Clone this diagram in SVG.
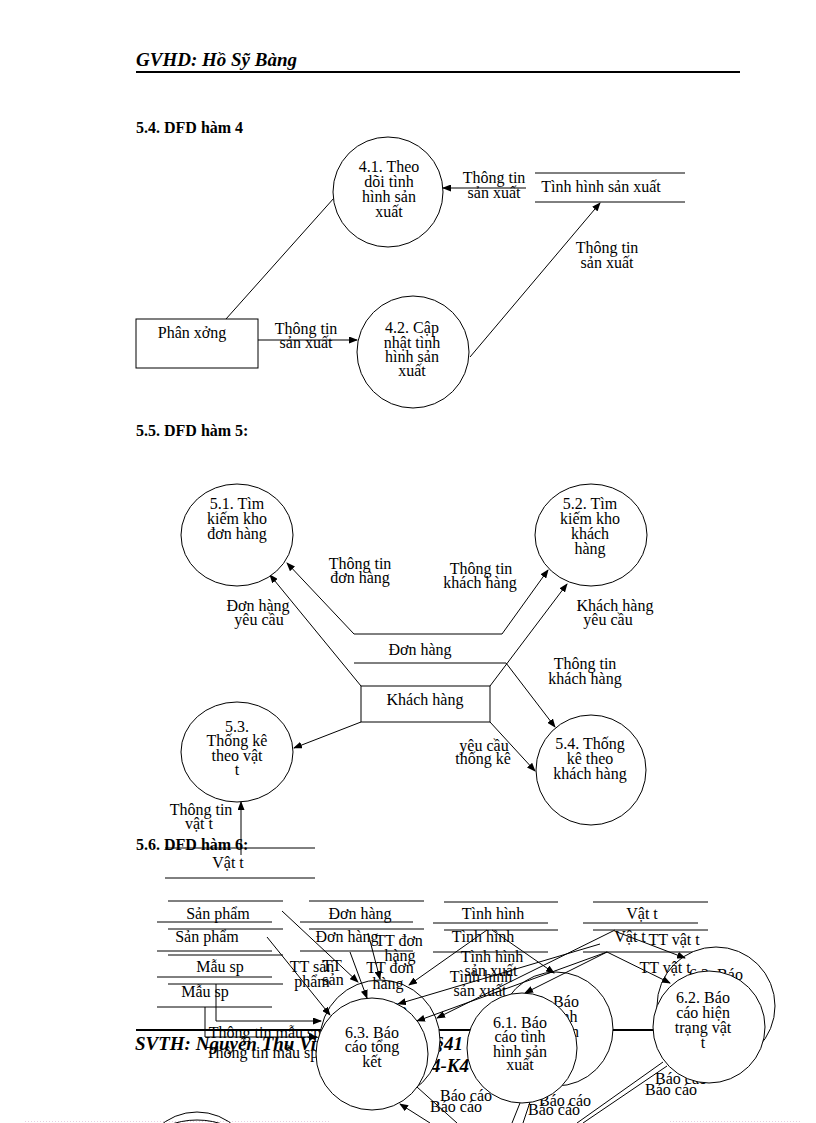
<svg xmlns="http://www.w3.org/2000/svg" width="816" height="1123" viewBox="0 0 816 1123">
<style>
.t{font-family:"Liberation Serif","Times New Roman",serif;font-size:16px;fill:#000;text-anchor:middle}
.h{font-family:"Liberation Serif","Times New Roman",serif;font-size:16px;font-weight:bold;fill:#000}
.hd{font-family:"Liberation Serif","Times New Roman",serif;font-size:19px;font-weight:bold;font-style:italic;fill:#000}
.ln{stroke:#000;stroke-width:1;fill:none}
.ar{stroke:#000;stroke-width:1;fill:none;marker-end:url(#ah)}
.nd{fill:#fff;stroke:#000;stroke-width:1}
.rule{stroke:#000;stroke-width:2}
</style>
<defs>
<marker id="ah" markerWidth="9" markerHeight="7" refX="8" refY="3.5" orient="auto" markerUnits="userSpaceOnUse">
<path d="M0,0 L9,3.5 L0,7 z" fill="#000"/>
</marker>
</defs>
<rect width="816" height="1123" fill="#fff"/>

<g id="page">
<text class="hd" x="136" y="66">GVHD: Hồ Sỹ Bàng</text>
<line class="rule" x1="136" y1="72" x2="740" y2="72"/>
<text class="h" x="136" y="133">5.4. DFD hàm 4</text>
<text class="h" x="136" y="436">5.5. DFD hàm 5:</text>
<text class="h" x="136" y="850">5.6. DFD hàm 6:</text>
<line class="rule" x1="136" y1="1030" x2="740" y2="1030"/>
<text class="hd" x="135" y="1050">SVTH: Nguyễn Thu Vi</text>
<text class="hd" x="463" y="1050" text-anchor="end">§41</text>
<text class="hd" x="469" y="1072" text-anchor="end">4-K4</text>
<line x1="25" y1="1121.5" x2="330" y2="1121.5" stroke="#e6cfe0" stroke-dasharray="1 2"/>
<line x1="670" y1="1121.5" x2="800" y2="1121.5" stroke="#e6cfe0" stroke-dasharray="1 2"/>
</g>

<!-- ===== 5.4 ===== -->
<g id="connectors-54">
<line class="ar" x1="526" y1="188" x2="443" y2="188"/>
<line class="ln" x1="226" y1="319" x2="334" y2="198"/>
<line class="ar" x1="258" y1="340" x2="357" y2="340"/>
<line class="ar" x1="470" y1="357" x2="600" y2="203"/>
<text class="t" x="494" y="183">Thông tin</text>
<text class="t" x="494" y="198">sản xuất</text>
<text class="t" x="306" y="334">Thông tin</text>
<text class="t" x="306" y="348">sản xuất</text>
<text class="t" x="607" y="253">Thông tin</text>
<text class="t" x="607" y="268">sản xuất</text>
</g>
<g id="p41">
<circle class="nd" cx="388" cy="192" r="55"/>
<text class="t" x="389" y="172">4.1. Theo</text>
<text class="t" x="389" y="187">dõi tình</text>
<text class="t" x="389" y="202">hình sản</text>
<text class="t" x="389" y="217">xuất</text>
</g>
<g id="p42">
<circle class="nd" cx="413" cy="352" r="56"/>
<text class="t" x="412" y="333">4.2. Cập</text>
<text class="t" x="412" y="348">nhật tình</text>
<text class="t" x="412" y="362">hình sản</text>
<text class="t" x="412" y="376">xuất</text>
</g>
<g id="ds-tinhhinh">
<line class="ln" x1="535" y1="173" x2="685" y2="173"/>
<line class="ln" x1="535" y1="202" x2="685" y2="202"/>
<text class="t" x="601" y="192">Tình hình sản xuất</text>
</g>
<g id="ext-phanxuong">
<rect class="nd" x="136" y="319" width="122" height="49"/>
<text class="t" x="192" y="338">Phân xởng</text>
</g>

<!-- ===== 5.5 ===== -->
<g id="connectors-55">
<line class="ar" x1="354" y1="634" x2="287" y2="563"/>
<line class="ar" x1="502" y1="634" x2="548" y2="570"/>
<line class="ar" x1="361" y1="686" x2="270" y2="575"/>
<line class="ar" x1="490" y1="686" x2="567" y2="584"/>
<line class="ar" x1="506" y1="663" x2="555" y2="727"/>
<line class="ar" x1="490" y1="722" x2="535" y2="771"/>
<line class="ar" x1="361" y1="722" x2="294" y2="748"/>
<line class="ar" x1="241" y1="855" x2="241" y2="802"/>
<text class="t" x="360" y="569">Thông tin</text>
<text class="t" x="360" y="583">đơn hàng</text>
<text class="t" x="481" y="574">Thông tin</text>
<text class="t" x="480" y="588">khách hàng</text>
<text class="t" x="258" y="611">Đơn hàng</text>
<text class="t" x="259" y="625">yêu cầu</text>
<text class="t" x="615" y="611">Khách hàng</text>
<text class="t" x="608" y="625">yêu cầu</text>
<text class="t" x="585" y="669">Thông tin</text>
<text class="t" x="585" y="684">khách hàng</text>
<text class="t" x="484" y="751">yêu cầu</text>
<text class="t" x="483" y="764">thống kê</text>
<text class="t" x="201" y="815">Thông tin</text>
<text class="t" x="199" y="829">vật t</text>
</g>
<g id="p51">
<ellipse class="nd" cx="237" cy="535" rx="56" ry="51"/>
<text class="t" x="237" y="509">5.1. Tìm</text>
<text class="t" x="237" y="524">kiếm kho</text>
<text class="t" x="237" y="539">đơn hàng</text>
</g>
<g id="p52">
<ellipse class="nd" cx="591" cy="535" rx="56" ry="51"/>
<text class="t" x="590" y="509">5.2. Tìm</text>
<text class="t" x="590" y="524">kiếm kho</text>
<text class="t" x="590" y="539">khách</text>
<text class="t" x="590" y="554">hàng</text>
</g>
<g id="p53">
<ellipse class="nd" cx="237" cy="752" rx="56" ry="50"/>
<text class="t" x="237" y="732">5.3.</text>
<text class="t" x="237" y="746">Thống kê</text>
<text class="t" x="237" y="761">theo vật</text>
<text class="t" x="237" y="775">t</text>
</g>
<g id="p54">
<circle class="nd" cx="591" cy="770" r="55"/>
<text class="t" x="590" y="749">5.4. Thống</text>
<text class="t" x="590" y="764">kê theo</text>
<text class="t" x="590" y="779">khách hàng</text>
</g>
<g id="ds-donhang">
<line class="ln" x1="354" y1="634" x2="502" y2="634"/>
<line class="ln" x1="354" y1="663" x2="506" y2="663"/>
<text class="t" x="420" y="655">Đơn hàng</text>
</g>
<g id="ext-khachhang">
<rect class="nd" x="361" y="686" width="129" height="36"/>
<text class="t" x="425" y="705">Khách hàng</text>
</g>
<g id="ds-vatt-55">
<line class="ln" x1="165" y1="848" x2="315" y2="848"/>
<line class="ln" x1="165" y1="878" x2="315" y2="878"/>
<text class="t" x="228" y="868">Vật t</text>
</g>

<!-- ===== 5.6 ===== -->
<g id="ds-sanpham">
<line class="ln" x1="168" y1="901" x2="283" y2="901"/>
<line class="ln" x1="157" y1="922" x2="272" y2="922"/>
<line class="ln" x1="168" y1="929" x2="283" y2="929"/>
<line class="ln" x1="157" y1="951" x2="272" y2="951"/>
<text class="t" x="218" y="919">Sản phẩm</text>
<text class="t" x="207" y="942">Sản phẩm</text>
</g>
<g id="ds-donhang-56">
<line class="ln" x1="309" y1="901" x2="424" y2="901"/>
<line class="ln" x1="300" y1="922" x2="413" y2="922"/>
<line class="ln" x1="309" y1="929" x2="424" y2="929"/>
<line class="ln" x1="300" y1="951" x2="413" y2="951"/>
<text class="t" x="360" y="919">Đơn hàng</text>
<text class="t" x="347" y="942">Đơn hàng</text>
</g>
<g id="ds-tinhhinh-56">
<line class="ln" x1="444" y1="902" x2="558" y2="902"/>
<line class="ln" x1="433" y1="923" x2="548" y2="923"/>
<line class="ln" x1="444" y1="930" x2="558" y2="930"/>
<line class="ln" x1="433" y1="952" x2="548" y2="952"/>
<text class="t" x="493" y="919">Tình hình</text>
<text class="t" x="483" y="942">Tình hình</text>
</g>
<g id="ds-vatt-56">
<line class="ln" x1="593" y1="902" x2="708" y2="902"/>
<line class="ln" x1="583" y1="923" x2="698" y2="923"/>
<line class="ln" x1="593" y1="930" x2="708" y2="930"/>
<line class="ln" x1="583" y1="952" x2="698" y2="952"/>
<text class="t" x="642" y="919">Vật t</text>
<text class="t" x="630" y="942">Vật t</text>
</g>
<g id="ds-mausp">
<line class="ln" x1="168" y1="955" x2="283" y2="955"/>
<line class="ln" x1="157" y1="977" x2="272" y2="977"/>
<line class="ln" x1="168" y1="984" x2="283" y2="984"/>
<line class="ln" x1="157" y1="1007" x2="272" y2="1007"/>
<text class="t" x="220" y="972">Mẫu sp</text>
<text class="t" x="205" y="997">Mẫu sp</text>
</g>

<g id="p63a">
<circle class="nd" cx="380" cy="1040" r="60"/>
<text class="t" x="380" y="1015">6.3. Báo</text>
</g>
<g id="p61a">
<circle class="nd" cx="556" cy="1029" r="57"/>
<text class="t" x="552" y="1007">6.1. Báo</text>
<text class="t" x="552" y="1022">cáo tình</text>
<text class="t" x="552" y="1037">hình sản</text>
</g>
<g id="p62a">
<circle class="nd" cx="716" cy="1006" r="59"/>
<text class="t" x="716" y="980">6.2. Báo</text>
</g>

<g id="labels-56">
<text class="t" x="312" y="972">TT sản</text>
<text class="t" x="312" y="987">phẩm</text>
<text class="t" x="332" y="971">TT</text>
<text class="t" x="333" y="985">sản</text>
<text class="t" x="399" y="946">TT đơn</text>
<text class="t" x="400" y="961">hàng</text>
<text class="t" x="390" y="973">TT đơn</text>
<text class="t" x="388" y="989">hàng</text>
<text class="t" x="492" y="962">Tình hình</text>
<text class="t" x="491" y="976">sản xuất</text>
<text class="t" x="481" y="982">Tình hình</text>
<text class="t" x="480" y="996">sản xuất</text>
<text class="t" x="674" y="945">TT vật t</text>
<text class="t" x="665" y="973">TT vật t</text>
<text class="t" x="265" y="1038">Thông tin mẫu sp</text>
<text class="t" x="262" y="1058">Thông tin mẫu sp</text>
<text class="t" x="466" y="1101">Báo cáo</text>
<text class="t" x="456" y="1112">Báo cáo</text>
<text class="t" x="565" y="1106">Báo cáo</text>
<text class="t" x="554" y="1115">Báo cáo</text>
<text class="t" x="681" y="1084">Báo cáo</text>
<text class="t" x="671" y="1095">Báo cáo</text>
</g>

<g id="connectors-56">
<line class="ar" x1="282" y1="911" x2="358" y2="982"/>
<line class="ar" x1="267" y1="937" x2="330" y2="1015"/>
<line class="ar" x1="368" y1="933" x2="380" y2="979"/>
<line class="ar" x1="350" y1="952" x2="367" y2="998"/>
<line class="ar" x1="487" y1="930" x2="409" y2="985"/>
<line class="ar" x1="600" y1="944" x2="398" y2="1004"/>
<line class="ar" x1="607" y1="952" x2="417" y2="1021"/>
<line class="ar" x1="615" y1="930" x2="437" y2="1018"/>
<line class="ar" x1="492" y1="930" x2="554" y2="973"/>
<line class="ar" x1="607" y1="952" x2="525" y2="993"/>
<line class="ar" x1="617" y1="932" x2="685" y2="958"/>
<line class="ar" x1="607" y1="952" x2="670" y2="983"/>
<polyline class="ar" points="216,984 216,1021 321,1021"/>
<polyline class="ar" points="205,1007 205,1037 317,1037"/>
<line class="ar" x1="430" y1="1123" x2="400" y2="1104"/>
<line class="ln" x1="417" y1="1087" x2="457" y2="1123"/>
<line class="ln" x1="520" y1="1103" x2="512" y2="1123"/>
<line class="ln" x1="530" y1="1102" x2="523" y2="1123"/>
<line class="ln" x1="663" y1="1062" x2="577" y2="1123"/>
<line class="ln" x1="667" y1="1066" x2="583" y2="1123"/>
</g>

<g id="p63">
<circle class="nd" cx="372" cy="1054" r="56"/>
<text class="t" x="372" y="1038">6.3. Báo</text>
<text class="t" x="372" y="1052">cáo tổng</text>
<text class="t" x="372" y="1067">kết</text>
</g>
<g id="p61">
<circle class="nd" cx="522" cy="1048" r="55"/>
<text class="t" x="520" y="1028">6.1. Báo</text>
<text class="t" x="520" y="1042">cáo tình</text>
<text class="t" x="520" y="1057">hình sản</text>
<text class="t" x="520" y="1070">xuất</text>
</g>
<g id="p62">
<circle class="nd" cx="709" cy="1027" r="56"/>
<text class="t" x="703" y="1003">6.2. Báo</text>
<text class="t" x="703" y="1018">cáo hiện</text>
<text class="t" x="703" y="1033">trạng vật</text>
<text class="t" x="703" y="1048">t</text>
</g>
<g id="p-bottom">
<circle class="ln" cx="197" cy="1169" r="57"/>
<circle class="ln" cx="197" cy="1200" r="80"/>
</g>
</svg>
